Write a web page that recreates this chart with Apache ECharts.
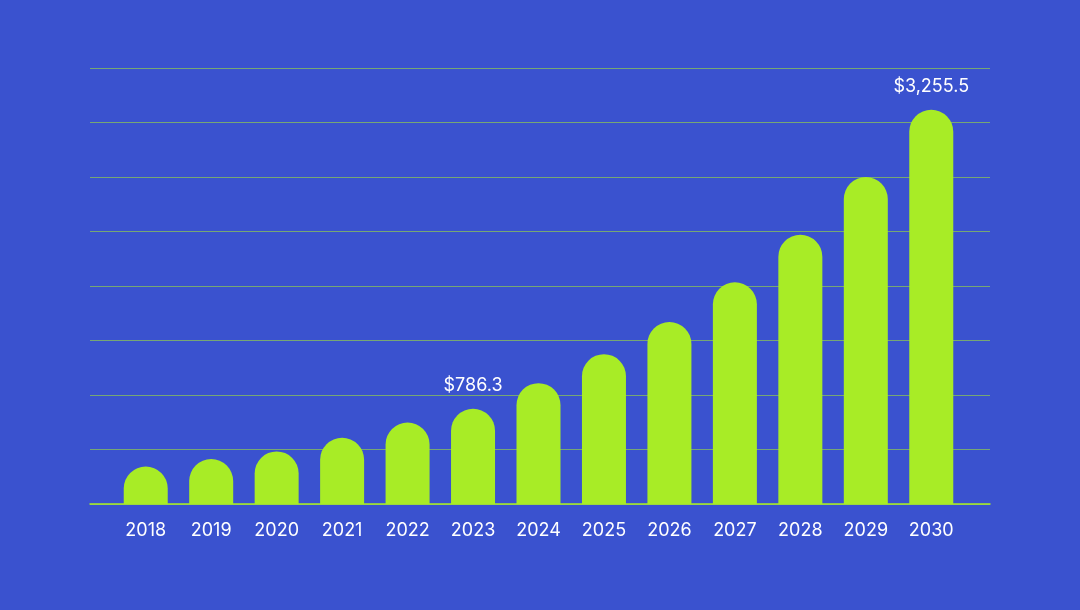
<!DOCTYPE html>
<html>
<head>
<meta charset="utf-8">
<script src="https://cdn.jsdelivr.net/npm/echarts@6/dist/echarts.min.js"></script>
<style>
  html, body { margin: 0; padding: 0; background: #3a52cf; }
  #main { width: 1080px; height: 610px; }
</style>
</head>
<body>
<div id="main"></div>
<script>
// data
let years = ['2018', '2019', '2020', '2021', '2022', '2023', '2024', '2025', '2026', '2027', '2028', '2029', '2030'];
let marketSize = [310, 371, 434, 547, 673, 786.3, 998, 1237, 1503, 1830, 2223, 2699, 3255.5];
// only these years carry a value label
let labelledYears = ['2023', '2030'];

let myChart = echarts.init(document.getElementById('main'));

let barData = marketSize.map(function (v, i) {
    let item = { value: v };
    if (labelledYears.indexOf(years[i]) >= 0) {
        item.label = { show: true };
    }
    return item;
});

myChart.setOption({
    backgroundColor: '#3a52cf',
    textStyle: { fontFamily: 'Inter' },
    grid: [
        // wide grid for gridlines and baseline
        { left: 90, right: 90, top: 68, bottom: 106 },
        // narrower grid for the bars
        { left: 113, right: 116, top: 68, bottom: 106 }
    ],
    xAxis: [
        {
            gridIndex: 0,
            type: 'value',
            min: 0,
            max: 1,
            axisLine: { show: true, lineStyle: { color: '#a8ec2a', width: 1.5 } },
            axisTick: { show: false },
            axisLabel: { show: false },
            splitLine: { show: false }
        },
        {
            gridIndex: 1,
            type: 'category',
            data: years,
            axisLine: { show: false },
            axisTick: { show: false },
            axisLabel: { color: '#ffffff', fontSize: 18, margin: 18, fontFamily: 'Inter' }
        }
    ],
    yAxis: [
        {
            gridIndex: 0,
            type: 'value',
            min: 0,
            max: 3600,
            interval: 450,
            axisLine: { show: false },
            axisTick: { show: false },
            axisLabel: { show: false },
            splitLine: { lineStyle: { color: 'rgba(168,236,42,0.55)', width: 1 } }
        },
        {
            gridIndex: 1,
            type: 'value',
            min: 0,
            max: 3600,
            interval: 450,
            show: false,
            splitLine: { show: false }
        }
    ],
    series: [
        {
            type: 'bar',
            xAxisIndex: 1,
            yAxisIndex: 1,
            data: barData,
            barWidth: 44,
            itemStyle: { color: '#a8ec26', borderRadius: [22, 22, 0, 0] },
            label: {
                show: false,
                position: 'top',
                distance: 14,
                color: '#ffffff',
                fontSize: 18,
                fontFamily: 'Inter',
                formatter: function (p) {
                    return '$' + p.value.toLocaleString('en-US', { minimumFractionDigits: 1 });
                }
            },
            animation: false
        }
    ]
});
</script>
</body>
</html>
